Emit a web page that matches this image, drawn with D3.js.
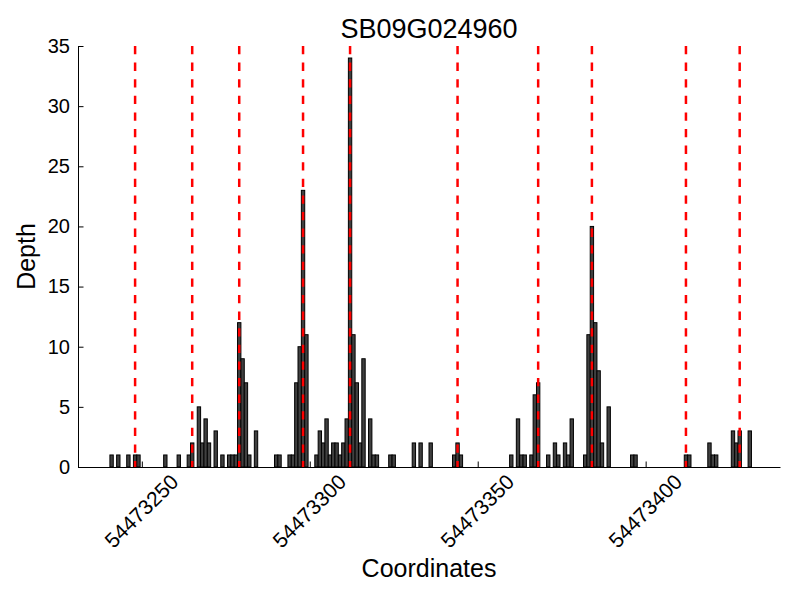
<!DOCTYPE html>
<html>
<head>
<meta charset="utf-8">
<script src="https://cdn.jsdelivr.net/npm/d3@7"></script>
<style>
  body { margin: 0; background: #fff; }
  svg { font-family: "Liberation Sans", Arial, sans-serif; }
</style>
</head>
<body>
<div id="chart"></div>
<script>
// 基因名和坐标偏移
var geneName = "SB09G024960",
    baseCoord = 54473000

// 有覆盖深度的位置 (相对 baseCoord)
var positions = [241, 243, 246, 248, 249, 257, 261, 264, 265, 267, 268, 269, 270, 272, 274, 276, 277, 278,
    279, 280, 281, 282, 284, 290, 291, 294, 295, 296, 297, 298, 299, 302, 303, 304, 305, 306, 307, 308,
    309, 310, 311, 312, 313, 314, 315, 316, 318, 319, 320, 324, 325, 331, 333, 336, 343, 344, 345, 360,
    362, 363, 364, 366, 367, 368, 371, 373, 374, 376, 377, 378, 382, 383, 384, 385, 386, 387, 389, 396,
    397, 412, 413, 419, 420, 421, 426, 427, 428, 431]
var depths = [1, 1, 1, 1, 1, 1, 1, 1, 2, 5, 2, 4, 2, 3, 1, 1, 1, 1,
    12, 9, 7, 1, 3, 1, 1, 1, 1, 7, 10, 23, 11, 1, 3, 2, 4, 1, 2, 2,
    1, 2, 4, 34, 11, 7, 2, 9, 4, 1, 1, 1, 1, 2, 2, 2, 1, 2, 1, 1,
    4, 1, 1, 1, 6, 7, 1, 2, 1, 2, 1, 4, 1, 11, 20, 12, 8, 2, 5, 1,
    1, 1, 1, 2, 1, 1, 3, 2, 3, 3]

// 红色虚线标记的位置
var markers = [248, 265, 279, 298, 312, 344, 368, 384, 412, 428]

var xTicks = [54473250, 54473300, 54473350, 54473400],
    yTicks = [0, 5, 10, 15, 20, 25, 30, 35]

var width = 800, height = 600,
    margin = {top: 46, right: 20, bottom: 133, left: 78}

var svg = d3.select("#chart")
    .append("svg")
    .attr("width", width)
    .attr("height", height)

var x = d3.scaleLinear()
    .domain([baseCoord + 231, baseCoord + 440])
    .range([margin.left, width - margin.right])

var y = d3.scaleLinear()
    .domain([0, 35])
    .range([height - margin.bottom, margin.top])

var bw = x(1) - x(0)

// 柱子
svg.append("g")
    .selectAll("rect")
    .data(positions)
    .enter().append("rect")
    .attr("x", function (d) {return x(baseCoord + d) - bw / 2;})
    .attr("y", function (d, i) {return y(depths[i]);})
    .attr("width", bw)
    .attr("height", function (d, i) {return y(0) - y(depths[i]);})
    .attr("fill", "#404040")
    .attr("stroke", "#000")
    .attr("stroke-width", 1)

// 红色虚线
svg.append("g")
    .selectAll("line")
    .data(markers)
    .enter().append("line")
    .attr("x1", function (d) {return x(baseCoord + d);})
    .attr("x2", function (d) {return x(baseCoord + d);})
    .attr("y1", y(35))
    .attr("y2", y(0))
    .attr("stroke", "#ff0000")
    .attr("stroke-width", 2.5)
    .attr("stroke-dasharray", "8.3,8.3")

// y 轴, 刻度朝内
var yAxis = svg.append("g")
    .attr("transform", "translate(" + margin.left + ",0)")
    .call(d3.axisLeft(y).tickValues(yTicks).tickSize(-5.5).tickSizeOuter(0).tickPadding(8))
yAxis.selectAll("text").style("font-size", "20px").attr("fill", "#000")

// x 轴, 标签旋转45度
var xAxis = svg.append("g")
    .attr("transform", "translate(0," + y(0) + ")")
    .call(d3.axisBottom(x).tickValues(xTicks).tickSize(-5.5).tickSizeOuter(0).tickFormat(d3.format("d")))
xAxis.selectAll("text")
    .style("font-size", "21px")
    .attr("fill", "#000")
    .attr("y", null)
    .attr("dy", null)
    .attr("text-anchor", "middle")
    .attr("dominant-baseline", "central")
    .attr("transform", "translate(-1,44)rotate(-45)")

svg.selectAll(".domain").attr("stroke", "#000")
svg.selectAll(".tick line").attr("stroke", "#000")

// 标题和轴标题
svg.append("text")
    .attr("x", (margin.left + width - margin.right) / 2)
    .attr("y", 38)
    .attr("text-anchor", "middle")
    .style("font-size", "27px")
    .text(geneName)

svg.append("text")
    .attr("x", (margin.left + width - margin.right) / 2)
    .attr("y", 577)
    .attr("text-anchor", "middle")
    .style("font-size", "25px")
    .text("Coordinates")

svg.append("text")
    .attr("transform", "translate(35," + (margin.top + y(0)) / 2 + ")rotate(-90)")
    .attr("text-anchor", "middle")
    .style("font-size", "25px")
    .text("Depth")
</script>
</body>
</html>
